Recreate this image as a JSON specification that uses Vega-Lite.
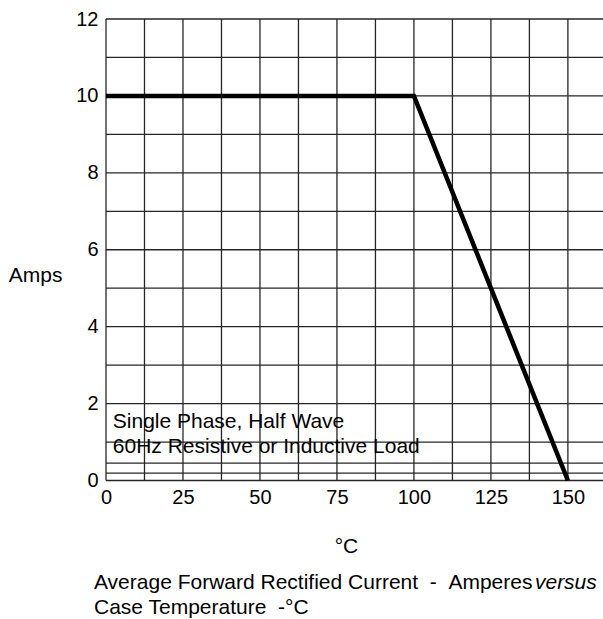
{
  "$schema": "https://vega.github.io/schema/vega-lite/v6.json",
  "width": 497,
  "height": 461.5,
  "autosize": {"type": "none"},
  "padding": {"left": 106, "top": 19, "right": 0, "bottom": 138.5},
  "background": "white",
  "config": {
    "view": {"stroke": null},
    "font": "Liberation Sans",
    "text": {"font": "Liberation Sans", "fontSize": 21, "color": "black"},
    "axis": {
      "labelFont": "Liberation Sans",
      "titleFont": "Liberation Sans",
      "labelFontSize": 20,
      "titleFontSize": 21,
      "labelColor": "black",
      "titleColor": "black",
      "titleFontWeight": "normal",
      "ticks": false,
      "tickSize": 0,
      "domain": false,
      "grid": false
    }
  },
  "datasets": {
    "curve": [
      {"temp": 0, "amps": 10},
      {"temp": 100, "amps": 10},
      {"temp": 150, "amps": 0}
    ],
    "xgrid": [
      {"v": 0}, {"v": 12.5}, {"v": 25}, {"v": 37.5}, {"v": 50}, {"v": 62.5}, {"v": 75},
      {"v": 87.5}, {"v": 100}, {"v": 112.5}, {"v": 125}, {"v": 137.5}, {"v": 150}
    ],
    "ygrid": [
      {"v": 0}, {"v": 0.19}, {"v": 0.45}, {"v": 1}, {"v": 2}, {"v": 3}, {"v": 4}, {"v": 5},
      {"v": 6}, {"v": 7}, {"v": 8}, {"v": 9}, {"v": 10}, {"v": 11}, {"v": 12}
    ]
  },
  "layer": [
    {
      "data": {"name": "xgrid"},
      "mark": {"type": "rule", "color": "#262626", "strokeWidth": 1.3},
      "encoding": {
        "x": {
          "field": "v",
          "type": "quantitative",
          "scale": {"domain": [0, 161.4], "nice": false, "zero": false},
          "axis": {
            "title": "°C",
            "values": [0, 25, 50, 75, 100, 125, 150],
            "format": "d",
            "labelPadding": 7,
            "labelFlush": false,
            "labelOverlap": false,
            "titleX": 240,
            "titleY": 71.5,
            "titleAlign": "center",
            "titleBaseline": "alphabetic"
          }
        }
      }
    },
    {
      "data": {"name": "ygrid"},
      "mark": {"type": "rule", "color": "#262626", "strokeWidth": 1.3},
      "encoding": {
        "y": {
          "field": "v",
          "type": "quantitative",
          "scale": {"domain": [0, 12], "nice": false},
          "axis": {
            "title": "Amps",
            "values": [0, 2, 4, 6, 8, 10, 12],
            "format": "d",
            "labelPadding": 8,
            "labelFlush": false,
            "labelOverlap": false,
            "titleAngle": 0,
            "titleX": -44,
            "titleY": 262,
            "titleAlign": "right",
            "titleBaseline": "alphabetic"
          }
        }
      }
    },
    {
      "data": {"name": "curve"},
      "mark": {"type": "line", "color": "black", "strokeWidth": 4.5, "strokeJoin": "miter"},
      "encoding": {
        "x": {"field": "temp", "type": "quantitative", "title": "°C"},
        "y": {"field": "amps", "type": "quantitative", "title": "Amps"}
      }
    },
    {
      "data": {"values": [{}]},
      "mark": {"type": "text", "text": "Single Phase, Half Wave", "align": "left", "baseline": "alphabetic"},
      "encoding": {
        "x": {"datum": 2.2, "type": "quantitative"},
        "y": {"datum": 1.36, "type": "quantitative"}
      }
    },
    {
      "data": {"values": [{}]},
      "mark": {"type": "text", "text": "60Hz Resistive or Inductive Load", "align": "left", "baseline": "alphabetic"},
      "encoding": {
        "x": {"datum": 2.2, "type": "quantitative"},
        "y": {"datum": 0.71, "type": "quantitative"}
      }
    },
    {
      "data": {"values": [{}]},
      "mark": {"type": "text", "text": "Average Forward Rectified Current\u00a0\u00a0-\u00a0\u00a0Amperes", "align": "left", "baseline": "alphabetic"},
      "encoding": {
        "x": {"datum": -3.9, "type": "quantitative"},
        "y": {"datum": -2.82, "type": "quantitative"}
      }
    },
    {
      "data": {"values": [{}]},
      "mark": {"type": "text", "text": "versus", "align": "left", "baseline": "alphabetic", "fontStyle": "italic"},
      "encoding": {
        "x": {"datum": 139.3, "type": "quantitative"},
        "y": {"datum": -2.82, "type": "quantitative"}
      }
    },
    {
      "data": {"values": [{}]},
      "mark": {"type": "text", "text": "Case Temperature\u00a0\u00a0-°C", "align": "left", "baseline": "alphabetic"},
      "encoding": {
        "x": {"datum": -3.9, "type": "quantitative"},
        "y": {"datum": -3.47, "type": "quantitative"}
      }
    }
  ]
}
